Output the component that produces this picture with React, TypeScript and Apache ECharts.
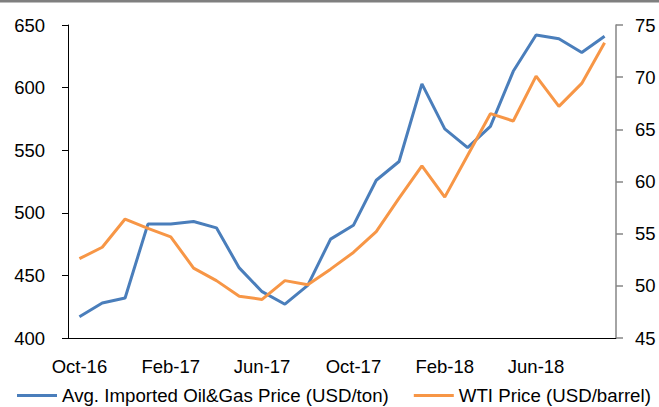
import React, { useEffect, useRef } from "react";
import * as echarts from "echarts";

const categories = [
  "Oct-16", "Nov-16", "Dec-16", "Jan-17", "Feb-17", "Mar-17", "Apr-17", "May-17",
  "Jun-17", "Jul-17", "Aug-17", "Sep-17", "Oct-17", "Nov-17", "Dec-17", "Jan-18",
  "Feb-18", "Mar-18", "Apr-18", "May-18", "Jun-18", "Jul-18", "Aug-18", "Sep-18",
];

const oilGasPrice = [
  417, 428, 432, 491, 491, 493, 488, 456, 437, 427, 442, 479,
  490, 526, 541, 603, 567, 552, 569, 613, 642, 639, 628, 641,
];

const wtiPrice = [
  52.6, 53.7, 56.4, 55.5, 54.7, 51.7, 50.5, 49.0, 48.7, 50.5, 50.1, 51.6,
  53.2, 55.2, 58.4, 61.5, 58.5, 62.5, 66.5, 65.8, 70.1, 67.2, 69.4, 73.3,
];

const leftTicks = { min: 400, max: 650, interval: 50 };
const rightTicks = { min: 45, max: 75, interval: 5 };

const seriesNames = [
  "Avg. Imported Oil&Gas Price (USD/ton)",
  "WTI Price (USD/barrel)",
];

const BLUE = "#4A7EBB";
const ORANGE = "#F79646";
const FONT = "'Liberation Sans', Arial, sans-serif";

export default function App() {
  const ref = useRef<HTMLDivElement>(null);

  useEffect(() => {
    if (!ref.current) return;
    const chart = echarts.init(ref.current, null, { renderer: "svg" });
    chart.setOption({
      animation: false,
      backgroundColor: "#ffffff",
      textStyle: { fontFamily: FONT },
      grid: { left: 68, right: 43, top: 25, bottom: 69, containLabel: false },
      graphic: [
        {
          type: "rect",
          left: 0,
          top: 0,
          shape: { width: 659, height: 2.5 },
          style: { fill: "#7f7f7f" },
        },
      ],
      legend: {
        left: 12,
        top: 381,
        itemGap: 25,
        itemWidth: 40,
        itemHeight: 3,
        icon: "rect",
        textStyle: { fontSize: 18.7, color: "#000", fontFamily: FONT },
        data: seriesNames,
      },
      xAxis: {
        type: "category",
        data: categories,
        boundaryGap: true,
        axisLine: { show: true, lineStyle: { color: "#000", width: 1 } },
        axisTick: { show: false },
        axisLabel: {
          interval: 3,
          fontSize: 18.5,
          color: "#000",
          margin: 19,
          fontFamily: FONT,
        },
        splitLine: { show: false },
      },
      yAxis: [
        {
          type: "value",
          position: "left",
          min: leftTicks.min,
          max: leftTicks.max,
          interval: leftTicks.interval,
          axisLine: { show: true, lineStyle: { color: "#000", width: 1 } },
          axisTick: { show: true, length: 6, lineStyle: { color: "#000" } },
          axisLabel: { fontSize: 18.5, color: "#000", margin: 23, fontFamily: FONT },
          splitLine: { show: false },
        },
        {
          type: "value",
          position: "right",
          min: rightTicks.min,
          max: rightTicks.max,
          interval: rightTicks.interval,
          axisLine: { show: true, lineStyle: { color: "#868686", width: 1.5 } },
          axisTick: { show: true, length: 7, lineStyle: { color: "#868686", width: 1.5 } },
          axisLabel: { fontSize: 18.5, color: "#000", margin: 19, fontFamily: FONT },
          splitLine: { show: false },
        },
      ],
      series: [
        {
          name: seriesNames[0],
          type: "line",
          yAxisIndex: 0,
          data: oilGasPrice,
          showSymbol: false,
          symbol: "none",
          lineStyle: { color: BLUE, width: 3 },
          itemStyle: { color: BLUE },
        },
        {
          name: seriesNames[1],
          type: "line",
          yAxisIndex: 1,
          data: wtiPrice,
          showSymbol: false,
          symbol: "none",
          lineStyle: { color: ORANGE, width: 3 },
          itemStyle: { color: ORANGE },
        },
      ],
    });
    return () => chart.dispose();
  }, []);

  return (
    <div
      ref={ref}
      style={{ position: "fixed", left: 0, top: 0, width: 659, height: 407 }}
    />
  );
}
